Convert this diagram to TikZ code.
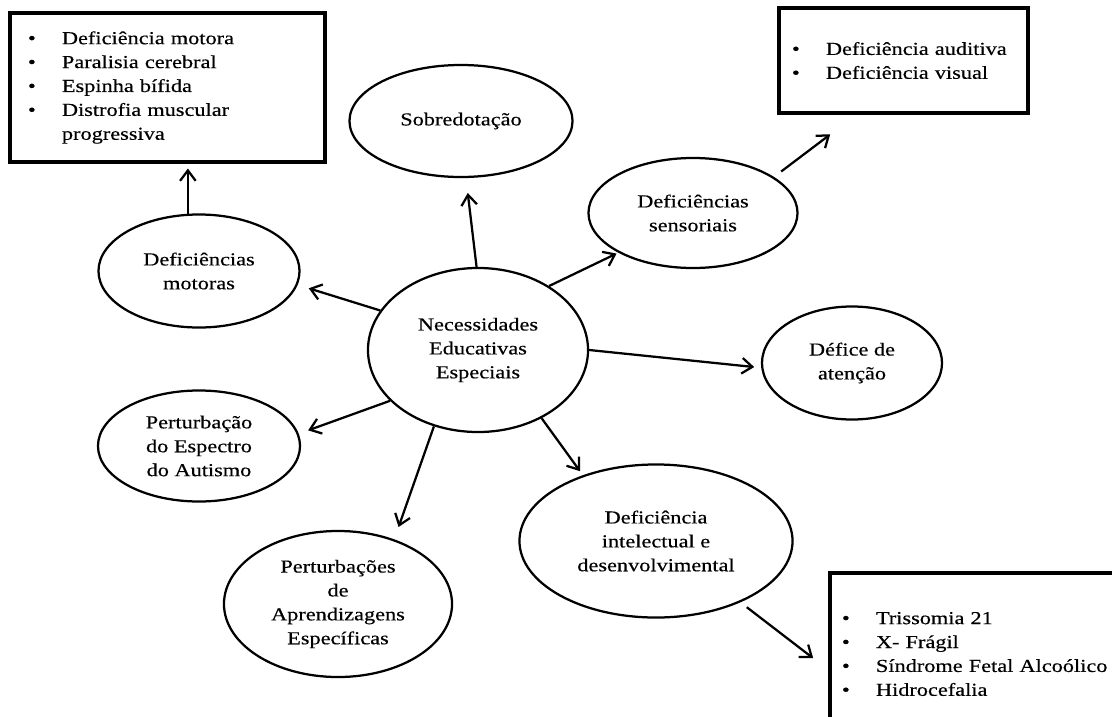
\documentclass[tikz,border=0pt]{standalone}
\usepackage{fontspec}
\setmainfont{Liberation Serif}[FakeStretch=1.22,FakeBold=0.4]
\usetikzlibrary{shapes.geometric,arrows.meta}
\newcommand{\bitem}[1]{\mbox{\makebox[0.85cm][l]{\textbullet}#1}}

\begin{document}
\begin{tikzpicture}[x=0.025cm,y=-0.025cm,
    tema/.style={ellipse,draw,line width=1.6pt,inner sep=0pt,align=center,font=\fontsize{13}{17}\selectfont},
    lista/.style={rectangle,draw,line width=2.2pt,align=left,font=\fontsize{13}{17}\selectfont},
    arrow/.style={-{Straight Barb[length=2.6mm,width=3.9mm]},line width=1.6pt}
]
\useasboundingbox (0,0) rectangle (1112,717);

% Central theme
\node[tema,minimum width=5.5cm,minimum height=4.1cm] (nee) at (478,350) {Necessidades\\Educativas\\Especiais};

% Themes around the centre
\node[tema,minimum width=5.575cm,minimum height=2.8cm] (sob) at (461,121) {Sobredotação};
\node[tema,minimum width=5.225cm,minimum height=2.75cm] (sens) at (693,213) {Deficiências\\sensoriais};
\node[tema,minimum width=5.025cm,minimum height=2.825cm] (motoras) at (199,271) {Deficiências\\motoras};
\node[tema,minimum width=4.5cm,minimum height=2.825cm] (defice) at (852,363) {Défice de\\atenção};
\node[tema,minimum width=5.05cm,minimum height=2.775cm] (autismo) at (199,446) {Perturbação\\do Espectro\\do Autismo};
\node[tema,minimum width=5.7cm,minimum height=3.65cm] (aprend) at (338,604) {Perturbações\\de\\Aprendizagens\\Específicas};
\node[tema,minimum width=6.825cm,minimum height=3.825cm] (intel) at (656,541) {Deficiência\\intelectual e\\desenvolvimental};

% Lists
\node[lista,minimum width=7.875cm,minimum height=3.725cm,inner xsep=0.45cm,text width=6.975cm] (boxmotor) at (167.5,87.5)
  {\bitem{Deficiência motora}\\\bitem{Paralisia cerebral}\\\bitem{Espinha bífida}\\\bitem{Distrofia muscular}\\\hspace*{0.85cm}progressiva};
\node[lista,minimum width=6.225cm,minimum height=2.625cm,inner xsep=0.325cm,text width=5.575cm] (boxsens) at (903.5,60.5)
  {\bitem{Deficiência auditiva}\\\bitem{Deficiência visual}};
\node[lista,minimum width=7.5cm,minimum height=4.05cm,inner xsep=0.3cm,text width=6.9cm] (boxintel) at (980,654)
  {\bitem{Trissomia 21}\\\bitem{X- Frágil}\\\bitem{Síndrome Fetal Alcoólico}\\\bitem{Hidrocefalia}};

% Arrows from the centre
\draw[arrow,shorten >=3.75mm] (nee.91) -- (sob.275);
\draw[arrow,shorten >=0.5mm] (nee.42) -- (sens.208);
\draw[arrow,shorten >=1.75mm] (nee.east) -- (defice.183);
\draw[arrow,shorten >=1.25mm] (nee.313) -- (intel.138);
\draw[arrow,shorten >=3.25mm] (nee.240) -- (aprend.49);
\draw[arrow,shorten >=2.5mm] (nee.210) -- (autismo.7);
\draw[arrow,shorten >=2.9mm] (nee.158) -- (motoras.352);

% Arrows to the lists
\draw[arrow,shorten >=1.25mm] (motoras.101) -- (motoras.101 |- boxmotor.south);
\draw[arrow,shorten <=2.25mm,shorten >=8.25mm] (sens.24) -- (boxsens.229);
\draw[arrow,shorten <=2mm,shorten >=4.8mm] (intel.324) -- (boxintel.186);

\end{tikzpicture}
\end{document}
